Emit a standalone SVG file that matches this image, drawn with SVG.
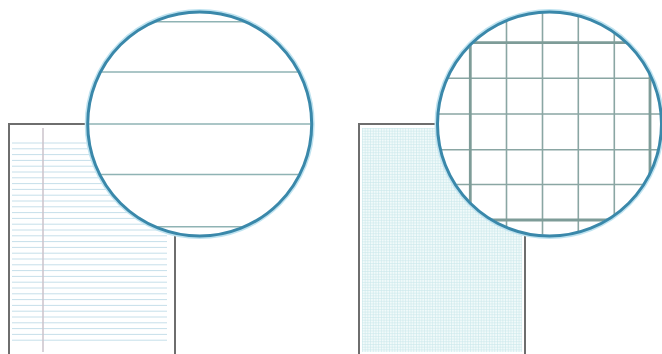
<svg xmlns="http://www.w3.org/2000/svg" width="662" height="354" viewBox="0 0 662 354">
  <style>
    .page { fill: #ffffff; stroke: #6e6e6e; stroke-width: 2; }
    .rule { stroke: #c6dfea; stroke-width: 1; }
    .margin { stroke: #cbc3cb; stroke-width: 1.5; }
    .lens { fill: #ffffff; }
    .lens-glow { fill: none; stroke: #bfe3f0; stroke-width: 6; }
    .lens-ring { fill: none; stroke: #3a88aa; stroke-width: 3; }
    .big-rule { stroke: #8fb3b4; stroke-width: 1.6; }
    .grid-thin { stroke: #8aa6a3; stroke-width: 1.6; }
    .grid-thick { stroke: #7e9c98; stroke-width: 2.8; }
  </style>
  <defs>
    <pattern id="fineGrid" patternUnits="userSpaceOnUse" x="362" y="128" width="2.7" height="2.7">
      <rect width="2.7" height="2.7" fill="#f1fafa"/>
      <path d="M0 0.3 H2.7 M0.3 0 V2.7" stroke="#c9e6ea" stroke-width="0.7"/>
    </pattern>
    <clipPath id="clipLeft"><circle cx="199.7" cy="124" r="111"/></clipPath>
    <clipPath id="clipRight"><circle cx="549.5" cy="124" r="111"/></clipPath>
  </defs>

  <rect width="662" height="354" fill="#ffffff"/>

  <g id="lined-page">
    <rect class="page" x="9" y="124" width="166" height="240"/>
    <g class="rule">
      <line x1="12" y1="143" x2="167" y2="143"/>
      <line x1="12" y1="148.8" x2="167" y2="148.8"/>
      <line x1="12" y1="154.6" x2="167" y2="154.6"/>
      <line x1="12" y1="160.4" x2="167" y2="160.4"/>
      <line x1="12" y1="166.2" x2="167" y2="166.2"/>
      <line x1="12" y1="172" x2="167" y2="172"/>
      <line x1="12" y1="177.8" x2="167" y2="177.8"/>
      <line x1="12" y1="183.6" x2="167" y2="183.6"/>
      <line x1="12" y1="189.4" x2="167" y2="189.4"/>
      <line x1="12" y1="195.2" x2="167" y2="195.2"/>
      <line x1="12" y1="201" x2="167" y2="201"/>
      <line x1="12" y1="206.8" x2="167" y2="206.8"/>
      <line x1="12" y1="212.6" x2="167" y2="212.6"/>
      <line x1="12" y1="218.4" x2="167" y2="218.4"/>
      <line x1="12" y1="224.2" x2="167" y2="224.2"/>
      <line x1="12" y1="230" x2="167" y2="230"/>
      <line x1="12" y1="235.8" x2="167" y2="235.8"/>
      <line x1="12" y1="241.6" x2="167" y2="241.6"/>
      <line x1="12" y1="247.4" x2="167" y2="247.4"/>
      <line x1="12" y1="253.2" x2="167" y2="253.2"/>
      <line x1="12" y1="259" x2="167" y2="259"/>
      <line x1="12" y1="264.8" x2="167" y2="264.8"/>
      <line x1="12" y1="270.6" x2="167" y2="270.6"/>
      <line x1="12" y1="276.4" x2="167" y2="276.4"/>
      <line x1="12" y1="282.2" x2="167" y2="282.2"/>
      <line x1="12" y1="288" x2="167" y2="288"/>
      <line x1="12" y1="293.8" x2="167" y2="293.8"/>
      <line x1="12" y1="299.6" x2="167" y2="299.6"/>
      <line x1="12" y1="305.4" x2="167" y2="305.4"/>
      <line x1="12" y1="311.2" x2="167" y2="311.2"/>
      <line x1="12" y1="317" x2="167" y2="317"/>
      <line x1="12" y1="322.8" x2="167" y2="322.8"/>
      <line x1="12" y1="328.6" x2="167" y2="328.6"/>
      <line x1="12" y1="334.4" x2="167" y2="334.4"/>
      <line x1="12" y1="340.2" x2="167" y2="340.2"/>
    </g>
    <line class="margin" x1="43" y1="128" x2="43" y2="352"/>
  </g>

  <g id="lined-magnifier">
    <circle class="lens-glow" cx="199.7" cy="124" r="112"/>
    <circle class="lens" cx="199.7" cy="124" r="112"/>
    <g clip-path="url(#clipLeft)" class="big-rule">
      <line x1="80" y1="21.7" x2="320" y2="21.7"/>
      <line x1="80" y1="72" x2="320" y2="72"/>
      <line x1="80" y1="124" x2="320" y2="124"/>
      <line x1="80" y1="174.5" x2="320" y2="174.5"/>
      <line x1="80" y1="226.7" x2="320" y2="226.7"/>
    </g>
    <circle class="lens-ring" cx="199.7" cy="124" r="112"/>
  </g>

  <g id="grid-page">
    <rect class="page" x="359" y="124" width="166" height="240"/>
    <rect x="362" y="128" width="160" height="224" fill="url(#fineGrid)"/>
  </g>

  <g id="grid-magnifier">
    <circle class="lens-glow" cx="549.5" cy="124" r="112"/>
    <circle class="lens" cx="549.5" cy="124" r="112"/>
    <g clip-path="url(#clipRight)">
      <g class="grid-thin">
        <line x1="506.5" y1="0" x2="506.5" y2="250"/>
        <line x1="542.5" y1="0" x2="542.5" y2="250"/>
        <line x1="578.3" y1="0" x2="578.3" y2="250"/>
        <line x1="614.3" y1="0" x2="614.3" y2="250"/>
        <line x1="430" y1="78.3" x2="670" y2="78.3"/>
        <line x1="430" y1="114" x2="670" y2="114"/>
        <line x1="430" y1="149.7" x2="670" y2="149.7"/>
        <line x1="430" y1="184.5" x2="670" y2="184.5"/>
      </g>
      <g class="grid-thick">
        <line x1="470.3" y1="42.7" x2="470.3" y2="220"/>
        <line x1="650" y1="42.7" x2="650" y2="220"/>
        <line x1="470.3" y1="42.7" x2="650" y2="42.7"/>
        <line x1="470.3" y1="220" x2="650" y2="220"/>
      </g>
    </g>
    <circle class="lens-ring" cx="549.5" cy="124" r="112"/>
  </g>
</svg>
